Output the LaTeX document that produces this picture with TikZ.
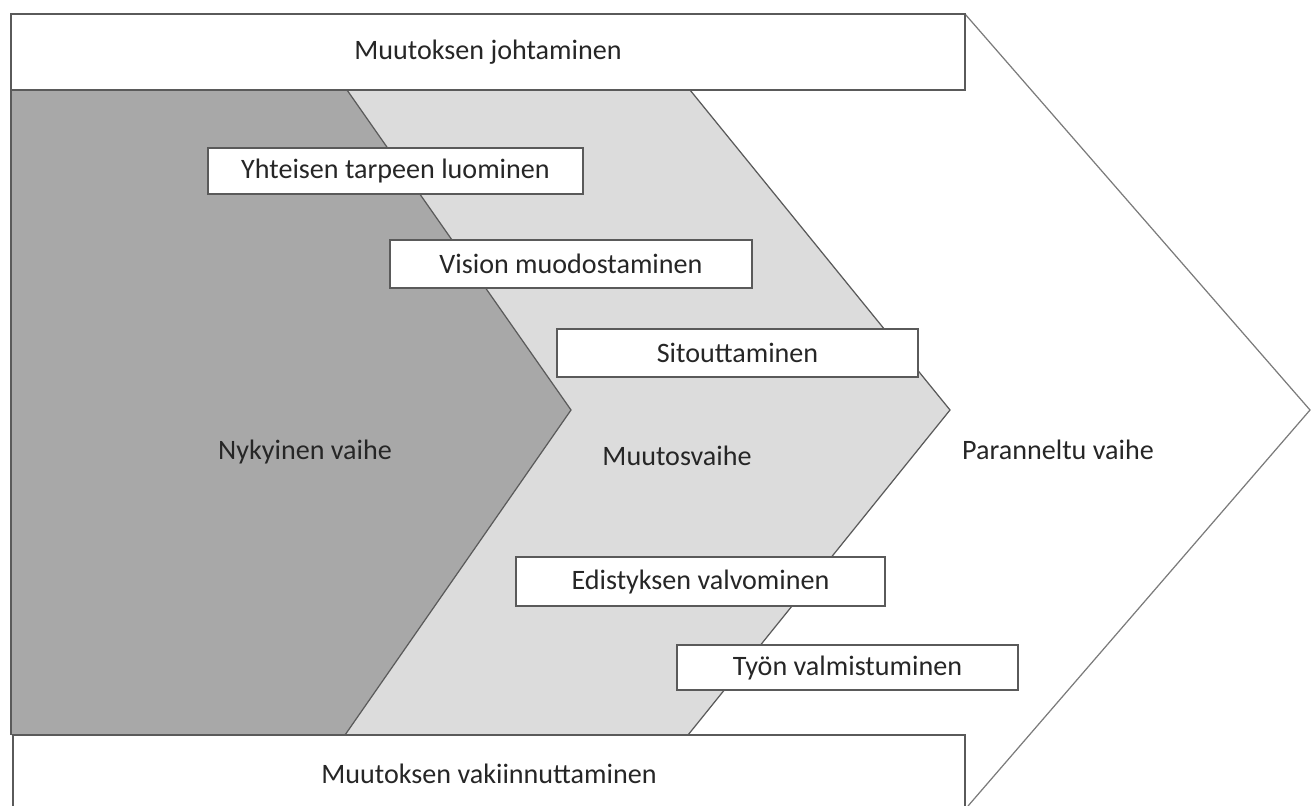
\documentclass[tikz,border=0pt]{standalone}
\usepackage{fontspec}
\setmainfont{Carlito}
\usetikzlibrary{positioning}

\definecolor{phasedark}{HTML}{A8A8A8}
\definecolor{phaselight}{HTML}{DCDCDC}
\definecolor{edgegray}{HTML}{5A5A5A}

\begin{document}
\begin{tikzpicture}[
    x=0.02cm, y=-0.02cm,
    every node/.style={font=\fontsize{16}{19}\selectfont, text=black!85},
    stepbox/.style={draw=edgegray, line width=0.8pt, fill=white, inner sep=0pt},
    barbox/.style={draw=edgegray, line width=0.9pt, fill=white, inner sep=0pt},
    chevedge/.style={draw=edgegray, line width=0.7pt},
]
\useasboundingbox (0,0) rectangle (1311,805);

% === Phase areas ===
\fill[phasedark] (11,90) -- (347,90) -- (571,410) -- (345,735) -- (11,735) -- cycle;
\fill[phaselight] (347,90) -- (690,90) -- (950,410) -- (688,735) -- (345,735) -- (571,410) -- cycle;
\draw[chevedge] (347,90) -- (571,410) -- (345,735);
\draw[chevedge] (690,90) -- (950,410) -- (688,735);
\draw[chevedge] (11,90) -- (11,735);

% === Big arrow head ===
\draw[chevedge, edgegray!80] (965,14) -- (1310,410) -- (968,806);

% === Top and bottom bars ===
\node[barbox, minimum width=19.08cm, minimum height=1.52cm] (lead) at (488,52) {Muutoksen johtaminen};
\node[barbox, minimum width=19.04cm, minimum height=1.54cm] (settle) at (489,773.5) {Muutoksen vakiinnuttaminen};

% === Phase labels ===
\node (current) at (305,452) {Nykyinen vaihe};
\node (change) at (677,456) {Muutosvaihe};
\node (improved) at (1058,450) {Paranneltu vaihe};

% === Steps ===
\node[stepbox, minimum width=7.5cm, minimum height=0.92cm] (need) at (395.5,171) {Yhteisen tarpeen luominen};
\node[stepbox, minimum width=7.24cm, minimum height=0.96cm] (vision) at (571,264) {Vision muodostaminen};
\node[stepbox, minimum width=7.22cm, minimum height=0.96cm] (commit) at (737.5,353) {Sitouttaminen};
\node[stepbox, minimum width=7.38cm, minimum height=0.98cm] (monitor) at (700.5,581.5) {Edistyksen valvominen};
\node[stepbox, minimum width=6.82cm, minimum height=0.9cm] (finish) at (847.5,667.5) {Työn valmistuminen};

\end{tikzpicture}
\end{document}
